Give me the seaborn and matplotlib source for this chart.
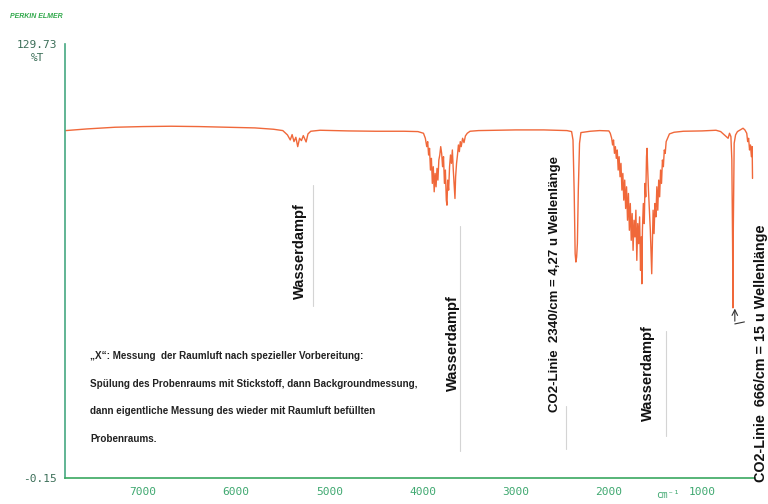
import numpy as np
import pandas as pd
from matplotlib import pyplot as plt
import seaborn as sns

# IR spectrum of room air, %T over wavenumber
wavenumber = [7830, 7600, 7300, 7000, 6700, 6400, 6100, 5800, 5600, 5500,
              5450, 5420, 5400, 5380, 5360, 5340, 5320, 5300, 5280, 5250,
              5230, 5200, 5100, 4800, 4500, 4200, 4050,
              3990, 3970, 3955, 3945, 3935, 3925, 3915, 3905, 3895, 3885,
              3875, 3865, 3855, 3845, 3835, 3825, 3815, 3805, 3795, 3785,
              3775, 3765, 3755, 3745, 3738, 3730, 3720, 3710, 3700, 3690,
              3680, 3670, 3660, 3652, 3645, 3635, 3625, 3615, 3605, 3595,
              3585, 3570, 3555, 3540, 3520, 3490,
              3400, 3000, 2700, 2450, 2400, 2385, 2372, 2362, 2354, 2346,
              2338, 2328, 2315, 2300, 2200, 2100, 2000, 1985,
              1970, 1960, 1950, 1940, 1930, 1920, 1910, 1900, 1890, 1880,
              1870, 1860, 1850, 1840, 1830, 1820, 1810, 1800, 1790, 1780,
              1770, 1760, 1750, 1740, 1730, 1720, 1710, 1700, 1690, 1680,
              1670, 1660, 1652, 1646, 1640, 1630, 1620, 1612, 1604, 1596,
              1590, 1584, 1575, 1565, 1555, 1548, 1540, 1533, 1525, 1515, 1505,
              1495, 1485, 1475, 1465, 1455, 1445, 1435, 1425, 1415, 1405,
              1395, 1385, 1370, 1350, 1300, 1200, 1000, 850,
              800, 720, 705, 690, 680, 672, 668, 664, 655, 640,
              620, 560, 540, 520, 510, 500, 490, 480, 470, 462, 458]
transmission = [103.8, 104.3, 104.8, 105.0, 105.1, 105.0, 104.8, 104.6, 104.2, 103.8,
                102.5, 101.0, 102.6, 100.5, 101.8, 99.0, 101.5, 100.8, 102.3, 100.4,
                102.8, 103.6, 103.9, 103.7, 103.6, 103.6, 103.5,
                103.0, 101.5, 99.0, 100.5, 96.5, 98.5, 92.0, 95.5, 88.0, 93.0,
                85.5, 91.0, 87.0, 92.5, 89.0, 95.0, 96.5, 99.0, 97.0, 93.0,
                96.0, 88.0, 92.0, 83.0, 81.5, 89.0, 86.0, 93.0, 96.5, 94.0,
                98.0, 92.0, 87.0, 83.5, 90.0, 94.0, 96.5, 99.5, 97.5, 100.5,
                99.0, 101.5, 100.2, 102.2, 103.0, 103.6,
                103.8, 104.0, 104.0, 103.8, 103.5, 101.0, 85.0, 67.0, 64.5, 66.0,
                70.0, 86.0, 100.0, 103.2, 103.6, 103.8, 103.7, 103.0,
                101.5, 99.5, 101.0, 97.0, 99.0, 95.5, 98.0, 92.0, 96.0, 90.0,
                94.0, 86.0, 91.0, 83.0, 89.0, 80.5, 87.0, 77.0, 85.0, 74.0,
                82.0, 71.0, 79.0, 68.0, 77.0, 72.0, 80.0, 65.0, 76.0, 70.0,
                78.0, 62.0, 72.0, 58.0, 74.0, 82.0, 76.0, 88.0, 84.0, 96.0,
                98.5, 93.0, 86.0, 80.0, 74.0, 68.0, 61.0, 70.0, 80.0, 73.0, 82.0,
                78.0, 87.0, 80.0, 89.0, 84.0, 92.0, 88.0, 95.0, 93.0, 98.0,
                97.0, 100.5, 101.5, 102.8, 103.3, 103.6, 103.7, 103.9,
                103.5, 101.5, 103.0, 102.0, 95.0, 70.0, 50.8, 75.0, 100.0, 102.5,
                103.5, 104.5, 104.0, 103.0, 100.5, 101.5, 98.0, 99.5, 96.0, 99.0, 89.5]

x_ticks = [7000, 6000, 5000, 4000, 3000, 2000, 1000]
y_limits = [-0.15, 129.73]

# vertical band labels: (text, wavenumber, %T)
label_texts = ['Wasserdampf', 'Wasserdampf', 'CO2-Linie  2340/cm = 4,27 u Wellenlänge',
               'Wasserdampf', 'CO2-Linie  666/cm = 15 u Wellenlänge']
label_wn = [5315, 3674, 2579, 1581, 369]
label_t = [67.9, 40.3, 58.0, 31.3, 37.3]
label_size = [10.5, 10.5, 9.5, 10.5, 10.4]

# faint pointer lines (wavenumber, top %T, bottom %T)
pointer_wn = [5176, 3598, 2461, 1388]
pointer_top = [87.4, 75.4, 21.4, 44.0]
pointer_bottom = [51.4, 7.9, 8.5, 12.4]

note_lines = ['\u201eX\u201c: Messung  der Raumluft nach spezieller Vorbereitung:',
              'Spülung des Probenraums mit Stickstoff, dann Backgroundmessung,',
              'dann eigentliche Messung des wieder mit Raumluft befüllten',
              'Probenraums.']
note_t = [36.4, 28.0, 19.9, 11.5]

sns.set_style('white')
plt.rcParams['font.family'] = ['Liberation Sans', 'DejaVu Sans']

green = '#3fa870'
df = pd.DataFrame({'wn': wavenumber, 'T': transmission})

fig = plt.figure(figsize=(7.68, 5.04), dpi=100)
ax = fig.add_axes([0.085, 0.051, 0.898, 0.862])
sns.lineplot(data=df, x='wn', y='T', ax=ax, sort=False, estimator=None,
             color='#f0683a', linewidth=1.0)

for w, t0, t1 in zip(pointer_wn, pointer_top, pointer_bottom):
    ax.plot([w, w], [t0, t1], color='#d4d4d4', linewidth=0.8)

for txt, w, t, s in zip(label_texts, label_wn, label_t, label_size):
    ax.text(w, t, txt, rotation=90, ha='center', va='center', fontsize=s,
            fontweight='bold', color='#111111', clip_on=False)

for txt, t in zip(note_lines, note_t):
    ax.text(7568, t, txt, ha='left', va='center', fontsize=7.1,
            fontweight='bold', color='#222222')

# little hand-drawn arrow next to the 666 line
ax.annotate('', xy=(648, 51.4), xytext=(648, 46.0),
            arrowprops=dict(arrowstyle='->', color='#333333', lw=0.8))
ax.plot([648, 545], [46.0, 46.6], color='#333333', linewidth=0.8)

ax.set_xlim(7835, 432)
ax.set_ylim(*y_limits)
ax.set_xticks(x_ticks)
ax.set_xticklabels([str(v) for v in x_ticks], fontfamily='DejaVu Sans Mono',
                   fontsize=8, color=green)
ax.set_yticks(y_limits)
ax.set_yticklabels(['-0.15', '129.73'], fontfamily='DejaVu Sans Mono',
                   fontsize=8, color='#3b6e58')
ax.tick_params(axis='both', direction='out', length=4, width=0.8, color=green, pad=2)
ax.set_xlabel('')
ax.set_ylabel('')
for side in ['top', 'right']:
    ax.spines[side].set_visible(False)
ax.spines['left'].set_color('#45a882')
ax.spines['bottom'].set_color('#3aa860')
ax.spines['left'].set_linewidth(1.2)
ax.spines['bottom'].set_linewidth(1.2)

ax.annotate('cm\u207b\u00b9', xy=(1367, 0), xycoords=('data', 'axes fraction'),
            xytext=(0, -12), textcoords='offset points', ha='center', va='center',
            fontsize=7, color=green, fontfamily='DejaVu Sans Mono')
fig.text(0.049, 0.885, '%T', ha='center', va='center', fontsize=8,
         fontfamily='DejaVu Sans Mono', color='#3b6e58')
fig.text(0.013, 0.968, 'PERKIN ELMER', ha='left', va='center', fontsize=5,
         fontweight='bold', fontstyle='italic', color='#2fa84a')

fig.savefig('out.png', dpi=100)
